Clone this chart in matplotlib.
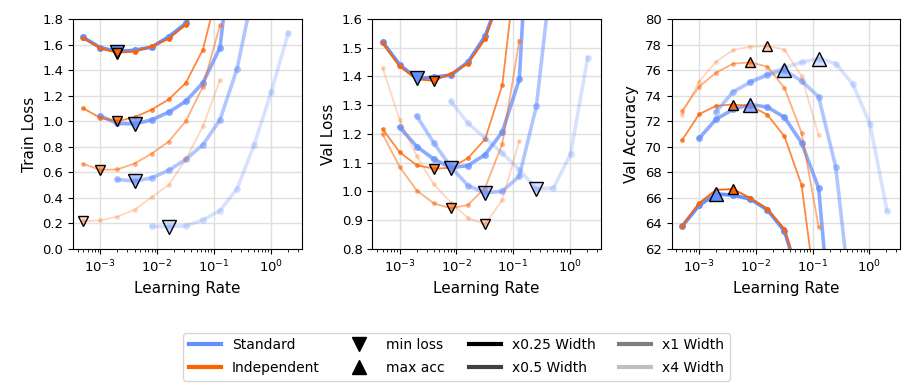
import matplotlib
matplotlib.use("Agg")
import matplotlib.pyplot as plt
from matplotlib.lines import Line2D
import numpy as np

# learning-rate grid
lr = [0.0005, 0.001, 0.002, 0.004, 0.008, 0.016, 0.032, 0.064, 0.128,
      0.256, 0.512, 1.024, 2.048]

widths = ["x0.25", "x0.5", "x1", "x4"]
alphas = [1.0, 0.75, 0.5, 0.25]
# standard sweep is shifted with width, independent always starts at lr[0]
std_start = [0, 1, 2, 4]
ind_start = [0, 0, 0, 0]

std_train = {
    "x0.25": [1.655, 1.575, 1.545, 1.555, 1.58, 1.66, 1.765, 2.06, 2.6],
    "x0.5": [1.04, 0.982, 0.978, 1.01, 1.07, 1.155, 1.30, 1.575, 2.72],
    "x1": [0.543, 0.53, 0.556, 0.615, 0.70, 0.815, 1.01, 1.41, 2.05],
    "x4": [0.176, 0.174, 0.18, 0.226, 0.30, 0.47, 0.815, 1.23, 1.69],
}
ind_train = {
    "x0.25": [1.65, 1.57, 1.535, 1.545, 1.585, 1.645, 1.755, 2.1, 2.6],
    "x0.5": [1.10, 1.025, 1.0, 1.03, 1.09, 1.17, 1.30, 1.56, 2.09],
    "x1": [0.665, 0.618, 0.622, 0.668, 0.746, 0.84, 1.0, 1.27, 1.75],
    "x4": [0.218, 0.222, 0.252, 0.305, 0.405, 0.50, 0.70, 0.96, 1.32],
}
std_val = {
    "x0.25": [1.52, 1.44, 1.393, 1.397, 1.405, 1.45, 1.54, 1.70, 2.2],
    "x0.5": [1.223, 1.156, 1.112, 1.082, 1.09, 1.128, 1.206, 1.39, 2.46],
    "x1": [1.262, 1.168, 1.085, 1.02, 0.995, 1.0, 1.053, 1.297, 1.82],
    "x4": [1.313, 1.237, 1.185, 1.133, 1.076, 1.008, 1.012, 1.13, 1.465],
}
ind_val = {
    "x0.25": [1.515, 1.435, 1.39, 1.385, 1.41, 1.445, 1.53, 1.70, 2.2],
    "x0.5": [1.217, 1.136, 1.091, 1.079, 1.082, 1.116, 1.182, 1.369, 1.88],
    "x1": [1.199, 1.085, 1.003, 0.958, 0.941, 0.953, 1.013, 1.165, 1.525],
    "x4": [1.43, 1.248, 1.122, 1.024, 0.961, 0.907, 0.885, 0.97, 1.176],
}
std_acc = {
    "x0.25": [63.75, 65.4, 66.3, 66.2, 65.9, 65.05, 63.4, 59.1, 50.0],
    "x0.5": [70.65, 72.15, 72.93, 73.3, 73.1, 72.3, 70.3, 66.75, 51.6],
    "x1": [72.75, 74.3, 75.05, 75.6, 76.0, 75.15, 73.9, 68.4, 56.5],
    "x4": [75.1, 75.7, 76.2, 76.6, 76.9, 76.5, 74.9, 71.8, 65.0],
}
ind_acc = {
    "x0.25": [63.8, 65.58, 66.62, 66.68, 65.97, 65.13, 63.54, 59.0, 50.0],
    "x0.5": [70.5, 72.54, 73.2, 73.3, 73.2, 72.5, 70.8, 67.0, 56.8],
    "x1": [72.8, 74.7, 75.8, 76.5, 76.6, 76.27, 74.6, 71.1, 63.7],
    "x4": [72.5, 75.1, 76.66, 77.57, 77.83, 77.88, 77.6, 75.5, 70.9],
}

blue = "#648FFF"
orange = "#FE6100"

panels = [
    ("Train Loss", std_train, ind_train, "min", (0.0, 1.8), np.arange(0.0, 1.81, 0.2)),
    ("Val Loss", std_val, ind_val, "min", (0.8, 1.6), np.arange(0.8, 1.61, 0.1)),
    ("Val Accuracy", std_acc, ind_acc, "max", (62, 80), np.arange(62, 81, 2)),
]

plt.rcParams["font.size"] = 10
fig, axes = plt.subplots(1, 3, figsize=(9.13, 3.87), dpi=100)
fig.subplots_adjust(left=0.08, right=0.986, top=0.951, bottom=0.357, wspace=0.31)


def rgba(c, a):
    r, g, b, _ = matplotlib.colors.to_rgba(c)
    return (r, g, b, a)


for ax, (ylabel, sdat, idat, mode, ylim, yticks) in zip(axes, panels):
    marks = []
    for w, a, s0, i0 in zip(widths, alphas, std_start, ind_start):
        for dat, start, col, lw, ms, tms in [(sdat, s0, blue, 2.6, 5, 9.5),
                                             (idat, i0, orange, 1.3, 3.5, 6.5)]:
            y = np.array(dat[w])
            x = np.array(lr[start:start + len(y)])
            ax.plot(x, y, "-o", color=rgba(col, a), lw=lw, ms=ms, mew=0)
            k = np.argmin(y) if mode == "min" else np.argmax(y)
            marks.append((x[k], y[k], col, a, tms))
    for xm, ym, col, a, tms in marks:
        ax.plot([xm], [ym], "v" if mode == "min" else "^", ms=tms,
                mfc=rgba(col, a), mec="k", mew=1.0, ls="none")
    ax.set_xscale("log")
    ax.set_xlim(3.3e-4, 3.5)
    ax.set_ylim(*ylim)
    ax.set_yticks(yticks)
    if mode == "max":
        ax.set_yticklabels([f"{v:.0f}" for v in yticks])
    ax.set_xlabel("Learning Rate", fontsize=11)
    ax.set_ylabel(ylabel, fontsize=11)
    ax.tick_params(labelsize=9.5)
    ax.grid(True, color="0.88", lw=1.0)
    ax.set_axisbelow(True)

handles = [
    Line2D([], [], color=blue, lw=3, label="Standard"),
    Line2D([], [], color=orange, lw=3, label="Independent"),
    Line2D([], [], color="k", marker="v", ls="none", ms=10, label="min loss"),
    Line2D([], [], color="k", marker="^", ls="none", ms=10, label="max acc"),
]
for w, a in zip(widths, alphas):
    handles.append(Line2D([], [], color=rgba("k", a), lw=3, label=f"{w} Width"))

fig.legend(handles=handles, loc="upper center", bbox_to_anchor=(0.5, 0.158),
           ncol=4, fontsize=10, handlelength=2.3, columnspacing=1.7,
           labelspacing=0.62, borderpad=0.4)

fig.savefig("out.png", dpi=100)
